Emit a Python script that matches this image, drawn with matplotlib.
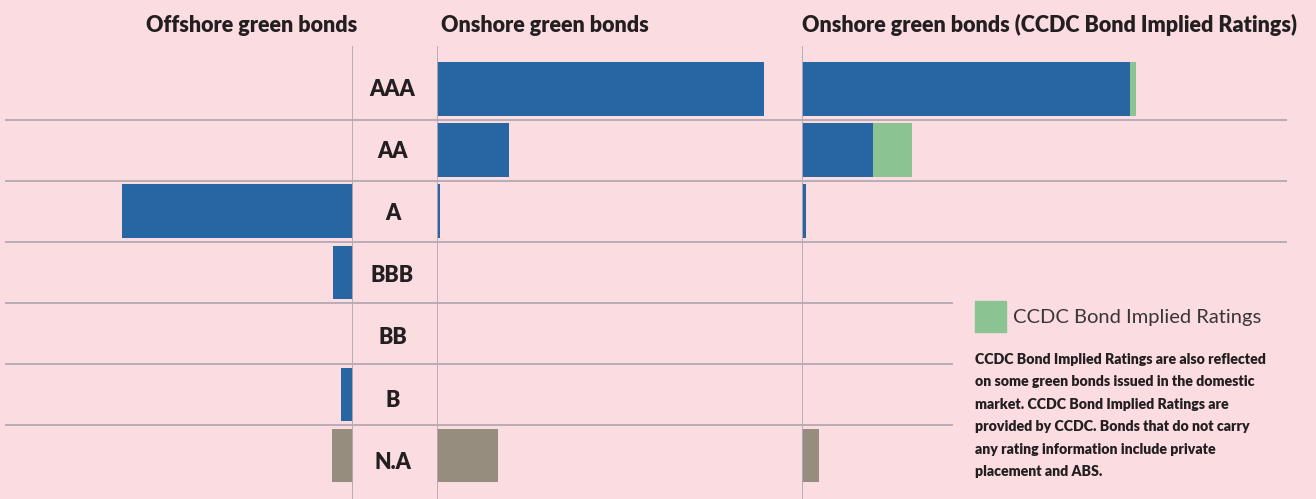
import matplotlib.pyplot as plt
from matplotlib.patches import Rectangle

plt.rcParams['font.family'] = ['Lato', 'DejaVu Sans']

# ratings, top to bottom
ratings = ["AAA", "AA", "A", "BBB", "BB", "B", "N.A"]

# bar lengths (same unit in all three panels)
offshore_rated = [0, 0, 77, 6.7, 0, 4, 0]
offshore_na = [0, 0, 0, 0, 0, 0, 7]
onshore_rated = [109, 24, 1, 0, 0, 0, 0]
onshore_na = [0, 0, 0, 0, 0, 0, 20.3]
ccdc_rated = [109.3, 23.7, 1.3, 0, 0, 0, 0]
ccdc_implied = [2, 13, 0, 0, 0, 0, 0]
ccdc_na = [0, 0, 0, 0, 0, 0, 5.7]

bg = "#fbdce1"
blue = "#2866a3"
green = "#8bc492"
grey = "#968d7e"
line_c = "#b5a9b2"
txt = "#231f20"

W, H = 1316, 499
fig = plt.figure(figsize=(W / 100, H / 100), dpi=100)
fig.patch.set_facecolor(bg)

px_per_unit = 3.0


def box(x0, x1, y0=46, y1=499):
    return [x0 / W, 1 - y1 / H, (x1 - x0) / W, (y1 - y0) / H]


def setup(ax, width_px, reverse=False, short_lines=None):
    ax.set_facecolor("none")
    ax.set_ylim(6.72, -0.705)
    lim = width_px / px_per_unit
    ax.set_xlim((lim, 0) if reverse else (0, lim))
    ax.set_xticks([])
    ax.set_yticks([])
    for s in ax.spines.values():
        s.set_visible(False)
    for b in range(len(ratings) - 1):
        xmax = 1
        if short_lines is not None and b >= 3:
            xmax = short_lines
        ax.axhline(b + 0.5, xmax=xmax, color=line_c, lw=1.3, zorder=1)


ax_off = fig.add_axes(box(5, 353))
ax_lab = fig.add_axes(box(353, 437))
ax_on = fig.add_axes(box(437, 802))
ax_cc = fig.add_axes(box(802, 1287))

setup(ax_off, 348, reverse=True)
setup(ax_lab, 84)
setup(ax_on, 365)
# lower lines stop before the legend / note block
setup(ax_cc, 485, short_lines=(952 - 802) / 485)

y = range(len(ratings))
h = 0.87

ax_off.barh(y, offshore_rated, height=h, color=blue, zorder=2)
ax_off.barh(y, offshore_na, height=h, color=grey, zorder=2)

ax_on.barh(y, onshore_rated, height=h, color=blue, zorder=2)
ax_on.barh(y, onshore_na, height=h, color=grey, zorder=2)

ax_cc.barh(y, ccdc_rated, height=h, color=blue, zorder=2)
ax_cc.barh(y, ccdc_implied, left=ccdc_rated, height=h, color=green, zorder=2)
ax_cc.barh(y, ccdc_na, height=h, color=grey, zorder=2)

# vertical dividers
for ax in (ax_off, ax_on, ax_cc):
    ax.axvline(0, color=line_c, lw=1.3, zorder=3)

# rating labels (sit a touch below row centre, as in the original)
for i, r in enumerate(ratings):
    ax_lab.text(0.47, i + 0.02 * i, r, transform=ax_lab.get_yaxis_transform(),
                ha="center", va="center", fontsize=15.5, fontweight="heavy", color=txt)

# panel titles
ty = 1 - 25 / H
fig.text(357 / W, ty, "Offshore green bonds", ha="right", va="center",
         fontsize=15.5, fontweight="heavy", color=txt)
fig.text(441 / W, ty, "Onshore green bonds", ha="left", va="center",
         fontsize=15.5, fontweight="heavy", color=txt)
fig.text(802 / W, ty, "Onshore green bonds (CCDC Bond Implied Ratings)", ha="left",
         va="center", fontsize=15.5, fontweight="heavy", color=txt)

# legend
fig.add_artist(Rectangle((975 / W, 1 - 332 / H), 31 / W, 31 / H,
                         transform=fig.transFigure, color=green))
fig.text(1013 / W, 1 - 317 / H, "CCDC Bond Implied Ratings", ha="left", va="center",
         fontsize=14.5, fontweight="normal", color="#3a3536")

note = ["CCDC Bond Implied Ratings are also reflected",
        "on some green bonds issued in the domestic",
        "market. CCDC Bond Implied Ratings are",
        "provided by CCDC. Bonds that do not carry",
        "any rating information include private",
        "placement and ABS."]
for k, line in enumerate(note):
    fig.text(975 / W, 1 - (359 + k * 22.6) / H, line, ha="left", va="center",
             fontsize=10.2, fontweight="heavy", color=txt)

fig.savefig("out.png", dpi=100, facecolor=bg)
